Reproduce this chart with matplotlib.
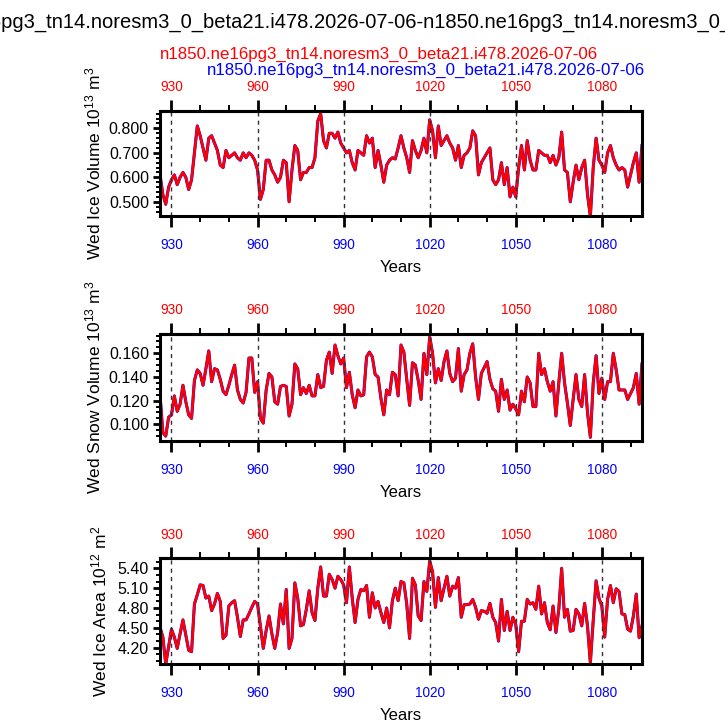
import numpy as np
import matplotlib
matplotlib.use("Agg")
import matplotlib.pyplot as plt
from matplotlib.ticker import MultipleLocator, FixedLocator, FormatStrFormatter

plt.rcParams['font.family'] = ['Liberation Sans', 'DejaVu Sans']
plt.rcParams['mathtext.fontset'] = 'custom'
plt.rcParams['mathtext.rm'] = 'Liberation Sans'
plt.rcParams['mathtext.it'] = 'Liberation Sans'

years = list(range(926, 1095))

ice_volume = [
    0.61, 0.53, 0.49, 0.56, 0.59, 0.61, 0.57, 0.60, 0.62, 0.60,
    0.55, 0.59, 0.70, 0.81, 0.77, 0.72, 0.67, 0.76, 0.77, 0.74,
    0.71, 0.65, 0.64, 0.71, 0.68, 0.69, 0.70, 0.68, 0.67, 0.70,
    0.68, 0.70, 0.69, 0.67, 0.63, 0.51, 0.55, 0.67, 0.67, 0.63,
    0.61, 0.58, 0.60, 0.67, 0.66, 0.50, 0.63, 0.73, 0.71, 0.59,
    0.62, 0.62, 0.64, 0.64, 0.68, 0.83, 0.86, 0.75, 0.72, 0.78,
    0.78, 0.76, 0.785, 0.74, 0.72, 0.70, 0.71, 0.66, 0.63, 0.71,
    0.70, 0.69, 0.77, 0.74, 0.76, 0.64, 0.71, 0.65, 0.58, 0.65,
    0.67, 0.68, 0.675, 0.72, 0.77, 0.72, 0.68, 0.62, 0.75, 0.71,
    0.68, 0.71, 0.76, 0.70, 0.835, 0.79, 0.68, 0.81, 0.73, 0.75,
    0.77, 0.74, 0.72, 0.67, 0.73, 0.64, 0.69, 0.70, 0.72, 0.79,
    0.77, 0.61, 0.66, 0.68, 0.70, 0.72, 0.59, 0.57, 0.59, 0.66,
    0.57, 0.64, 0.52, 0.56, 0.52, 0.64, 0.73, 0.63, 0.75, 0.67,
    0.63, 0.63, 0.71, 0.70, 0.69, 0.69, 0.66, 0.69, 0.65, 0.68,
    0.785, 0.63, 0.62, 0.50, 0.58, 0.65, 0.59, 0.64, 0.67, 0.53,
    0.44, 0.64, 0.76, 0.67, 0.65, 0.62, 0.70, 0.73, 0.68, 0.65,
    0.63, 0.64, 0.63, 0.56, 0.61, 0.66, 0.70, 0.58, 0.73,
]

snow_volume = [
    0.125, 0.093, 0.090, 0.106, 0.108, 0.124, 0.111, 0.117, 0.133, 0.119,
    0.108, 0.105, 0.137, 0.146, 0.143, 0.133, 0.147, 0.162, 0.136, 0.147,
    0.146, 0.138, 0.128, 0.125, 0.133, 0.142, 0.150, 0.129, 0.121, 0.118,
    0.127, 0.156, 0.156, 0.127, 0.136, 0.105, 0.101, 0.129, 0.143, 0.140,
    0.119, 0.117, 0.132, 0.133, 0.132, 0.107, 0.117, 0.151, 0.147, 0.125,
    0.131, 0.126, 0.133, 0.124, 0.124, 0.142, 0.131, 0.132, 0.154, 0.161,
    0.143, 0.167, 0.158, 0.151, 0.156, 0.131, 0.144, 0.125, 0.114, 0.129,
    0.124, 0.125, 0.157, 0.161, 0.157, 0.142, 0.140, 0.122, 0.108, 0.129,
    0.125, 0.144, 0.142, 0.124, 0.167, 0.161, 0.138, 0.116, 0.152, 0.150,
    0.137, 0.121, 0.160, 0.142, 0.174, 0.160, 0.135, 0.147, 0.137, 0.153,
    0.162, 0.143, 0.136, 0.139, 0.164, 0.128, 0.142, 0.146, 0.160, 0.168,
    0.140, 0.121, 0.143, 0.148, 0.153, 0.138, 0.130, 0.128, 0.111, 0.138,
    0.121, 0.129, 0.112, 0.117, 0.113, 0.108, 0.128, 0.119, 0.140, 0.135,
    0.115, 0.115, 0.160, 0.142, 0.147, 0.136, 0.128, 0.136, 0.107, 0.135,
    0.160, 0.135, 0.118, 0.099, 0.121, 0.142, 0.121, 0.115, 0.142, 0.110,
    0.089, 0.135, 0.158, 0.126, 0.139, 0.121, 0.136, 0.136, 0.160, 0.146,
    0.129, 0.129, 0.129, 0.121, 0.126, 0.131, 0.143, 0.117, 0.151,
]

ice_area = [
    4.51, 4.36, 3.95, 4.21, 4.48, 4.36, 4.19, 4.41, 4.62, 4.39,
    4.16, 4.14, 4.86, 5.00, 5.15, 5.14, 4.95, 4.98, 4.76, 4.86,
    5.02, 4.90, 4.34, 4.39, 4.83, 4.88, 4.91, 4.66, 4.37, 4.62,
    4.62, 4.71, 4.81, 4.90, 4.86, 4.53, 4.19, 4.46, 4.68, 4.41,
    4.19, 4.43, 4.86, 4.56, 5.08, 4.19, 4.34, 5.18, 4.95, 4.53,
    4.55, 4.78, 5.06, 4.73, 4.61, 5.10, 5.42, 4.98, 4.98, 5.31,
    5.23, 5.10, 5.28, 5.23, 5.15, 4.88, 5.42, 4.95, 4.58, 4.93,
    5.08, 5.06, 5.14, 4.66, 5.03, 4.80, 4.90, 4.73, 4.58, 4.80,
    4.50, 4.91, 5.10, 4.91, 5.20, 5.18, 4.86, 4.34, 5.25, 5.15,
    4.68, 4.61, 5.20, 5.05, 5.51, 5.35, 4.81, 5.26, 4.91, 5.10,
    5.28, 4.98, 5.13, 5.10, 5.26, 4.66, 4.85, 4.85, 4.86, 4.93,
    4.81, 4.63, 4.76, 4.75, 4.72, 4.87, 4.66, 4.58, 4.30, 4.93,
    4.46, 4.75, 4.46, 4.66, 4.55, 4.14, 4.60, 4.60, 4.93, 4.86,
    4.88, 4.78, 5.13, 4.71, 4.88, 4.58, 4.47, 4.83, 4.43, 4.78,
    5.40, 4.66, 4.78, 4.45, 4.46, 4.78, 4.71, 4.53, 4.87, 4.53,
    3.97, 4.61, 5.21, 4.95, 4.83, 4.36, 4.93, 5.14, 4.88, 5.09,
    5.05, 4.71, 4.70, 4.48, 4.45, 4.68, 5.01, 4.35, 4.53,
]

# second run (blue) overlaps the first (red) exactly in the picture
ice_volume_b = ice_volume
snow_volume_b = snow_volume
ice_area_b = ice_area

case_red = "n1850.ne16pg3_tn14.noresm3_0_beta21.i478.2026-07-06"
case_blue = "n1850.ne16pg3_tn14.noresm3_0_beta21.i478.2026-07-06"
main_title = case_red + "-" + case_blue

xticks = [930, 960, 990, 1020, 1050, 1080]

panels = [
    dict(y=ice_volume, yb=ice_volume_b, label=r'Wed Ice Volume 10$^{13}$ m$^{3}$',
         ylim=(0.442, 0.871), major=[0.5, 0.6, 0.7, 0.8], minor=0.02, fmt="%.3f",
         rect=[160/725, 1-216/725, 482/725, 105/725], lx=-0.118),
    dict(y=snow_volume, yb=snow_volume_b, label=r'Wed Snow Volume 10$^{13}$ m$^{3}$',
         ylim=(0.0859, 0.1763), major=[0.10, 0.12, 0.14, 0.16], minor=0.005, fmt="%.3f",
         rect=[160/725, 1-441/725, 482/725, 107/725], lx=-0.118),
    dict(y=ice_area, yb=ice_area_b, label=r'Wed Ice Area 10$^{12}$ m$^{2}$',
         ylim=(3.949, 5.551), major=[4.2, 4.5, 4.8, 5.1, 5.4], minor=0.1, fmt="%.2f",
         rect=[160/725, 1-664.3/725, 482/725, 106/725], lx=-0.106),
]

fig = plt.figure(figsize=(7.25, 7.25), dpi=100)

for p in panels:
    ax = fig.add_axes(p['rect'])
    ax.plot(years, p['yb'], color='blue', lw=2.2, solid_joinstyle='round')
    ax.plot(years, p['y'], color='#ff0000', lw=1.9, solid_joinstyle='round')
    ax.set_xlim(years[0], years[-1])
    ax.set_ylim(*p['ylim'])
    for xv in xticks:
        ax.axvline(xv, color='#333333', lw=1.0, ls=(0, (3, 3)))
    for s in ax.spines.values():
        s.set_linewidth(2.2)
    ax.xaxis.set_major_locator(FixedLocator(xticks))
    ax.xaxis.set_minor_locator(MultipleLocator(10))
    ax.yaxis.set_major_locator(FixedLocator(p['major']))
    ax.yaxis.set_minor_locator(MultipleLocator(p['minor']))
    ax.yaxis.set_major_formatter(FormatStrFormatter(p['fmt']))
    ax.tick_params(axis='x', which='major', direction='out', length=8, width=2.0,
                   labelsize=9.8, labelcolor='blue', pad=7.5, top=False)
    ax.tick_params(axis='x', which='minor', direction='out', length=4.3, width=1.4, top=False)
    ax.tick_params(axis='y', which='major', direction='out', length=5, width=2.0,
                   labelsize=11.5, pad=3, right=False)
    ax.tick_params(axis='y', which='minor', direction='out', length=3.2, width=1.4, right=False)
    sec = ax.secondary_xaxis('top')
    sec.xaxis.set_major_locator(FixedLocator(xticks))
    sec.xaxis.set_minor_locator(MultipleLocator(10))
    sec.tick_params(axis='x', which='major', direction='out', length=8, width=2.0,
                    labelsize=9.8, labelcolor='red', pad=4)
    sec.tick_params(axis='x', which='minor', direction='out', length=4.3, width=1.4)
    sec.spines['top'].set_linewidth(2.2)
    ax.set_ylabel(p['label'], fontsize=12.5)
    ax.yaxis.set_label_coords(p['lx'], 0.5)
    ax.set_xlabel('Years', fontsize=12)
    ax.xaxis.set_label_coords(0.5, -0.415)

# main title: position so that the visible part starts like the reference
title_fs = 14.5
renderer = fig.canvas.get_renderer()
probe = fig.text(0, 0, "n1850.ne16", fontsize=title_fs)
prefix_w = probe.get_window_extent(renderer=renderer).width
probe.remove()
fig.text((2 - prefix_w) / 725, 1 - 22/725, main_title, fontsize=title_fs, ha='left', va='center')
fig.text(160/725, 1-54/725, case_red, fontsize=12.2, color='red', ha='left', va='center')
fig.text(645/725, 1-70/725, case_blue, fontsize=12.2, color='blue', ha='right', va='center')

fig.savefig('out.png', dpi=100)
